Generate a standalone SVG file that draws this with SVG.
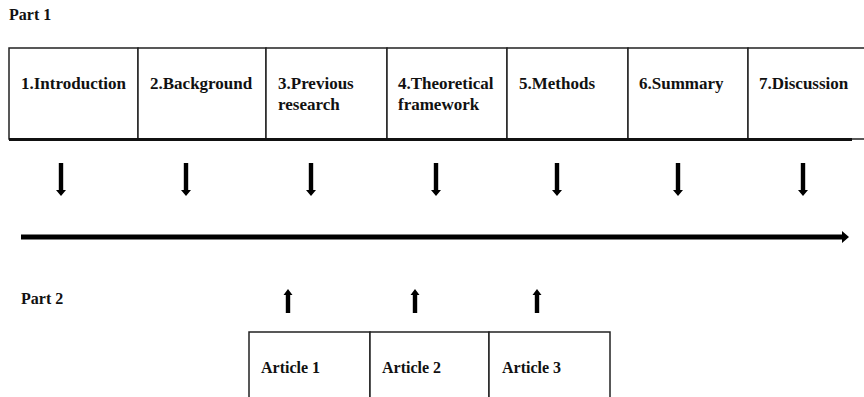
<svg xmlns="http://www.w3.org/2000/svg" width="864" height="397" viewBox="0 0 864 397">
<style>
text{font-family:"Liberation Serif","Times New Roman",serif;font-weight:bold;font-size:16px;fill:#111}
.lbl{font-size:17px}
.cell{fill:#fff;stroke:#222;stroke-width:1.5}
.arr{fill:#000}
</style>
<defs>
<path id="down" d="M-2.2,0 H2.2 V27 H5 L0,33 L-5,27 H-2.2 Z"/>
<path id="up" d="M-2.2,24 H2.2 V6 H4.5 L0,0 L-4.5,6 H-2.2 Z"/>
</defs>
<rect width="864" height="397" fill="#fff"/>
<text x="9" y="20">Part 1</text>
<text x="21" y="304">Part 2</text>
<g id="n1"><rect class="cell" x="9" y="48" width="129" height="91"/><text class="lbl" x="21" y="89">1.Introduction</text></g>
<g id="n2"><rect class="cell" x="138" y="48" width="128" height="91"/><text class="lbl" x="150" y="89">2.Background</text></g>
<g id="n3"><rect class="cell" x="266" y="48" width="121" height="91"/><text class="lbl" x="278" y="89">3.Previous</text><text class="lbl" x="278" y="110">research</text></g>
<g id="n4"><rect class="cell" x="387" y="48" width="120" height="91"/><text class="lbl" x="398" y="89">4.Theoretical</text><text class="lbl" x="398" y="110">framework</text></g>
<g id="n5"><rect class="cell" x="507" y="48" width="121" height="91"/><text class="lbl" x="519" y="89">5.Methods</text></g>
<g id="n6"><rect class="cell" x="628" y="48" width="120" height="91"/><text class="lbl" x="639" y="89">6.Summary</text></g>
<g id="n7"><path class="cell" d="M748,139 V48 H866 M748,139 H866"/><text class="lbl" x="759" y="89">7.Discussion</text></g>
<line x1="9" y1="139.5" x2="852" y2="139.5" stroke="#111" stroke-width="3"/>
<g id="a1"><rect class="cell" x="249" y="332" width="121" height="70"/><text x="261" y="373">Article 1</text></g>
<g id="a2"><rect class="cell" x="370" y="332" width="119" height="70"/><text x="382" y="373">Article 2</text></g>
<g id="a3"><rect class="cell" x="489" y="332" width="121" height="70"/><text x="502" y="373">Article 3</text></g>
<g id="connectors" class="arr">
<use href="#down" x="61" y="163"/>
<use href="#down" x="186" y="163"/>
<use href="#down" x="311" y="163"/>
<use href="#down" x="436" y="163"/>
<use href="#down" x="557" y="163"/>
<use href="#down" x="678" y="163"/>
<use href="#down" x="803" y="163"/>
<path d="M21,234.5 H842 V231 L849,237 L842,243 V239.5 H21 Z"/>
<use href="#up" x="288" y="289"/>
<use href="#up" x="415" y="289"/>
<use href="#up" x="537" y="289"/>
</g>
</svg>
